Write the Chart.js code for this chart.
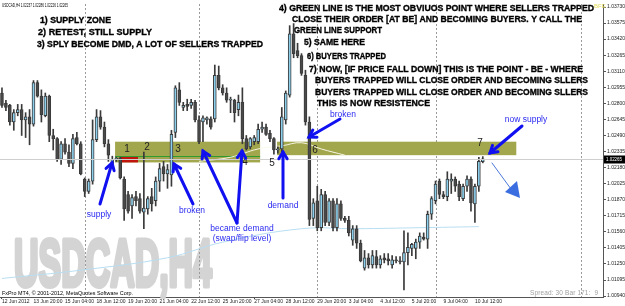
<!DOCTYPE html>
<html lang="en">
<head>
<meta charset="UTF-8">
<title>USDCAD,H4</title>
<script src="https://cdn.jsdelivr.net/npm/chart.js"></script>
<style>
    html, body { margin: 0; padding: 0; background: #fff; }
    #wrap { width: 625px; height: 306px; }
</style>
</head>
<body>
<div id="wrap"><canvas id="chart" width="625" height="306"></canvas></div>
<script>
// USDCAD H4 bars, 12 Jun - 10 Jul 2012
const open = [
    1.0290, 1.0280, 1.0278, 1.0262, 1.0271, 1.0274, 1.0264, 1.0267, 1.0260, 1.0300,
    1.0287, 1.0268, 1.0287, 1.0249, 1.0246, 1.0226, 1.0241, 1.0233, 1.0222, 1.0247,
    1.0241, 1.0207, 1.0195, 1.0205, 1.0245, 1.0267, 1.0257, 1.0241, 1.0222, 1.0226,
    1.0227, 1.0207, 1.0192, 1.0181, 1.0190, 1.0188, 1.0175, 1.0178, 1.0190, 1.0186,
    1.0205, 1.0219, 1.0212, 1.0211, 1.0252, 1.0293, 1.0276, 1.0279, 1.0278, 1.0281,
    1.0264, 1.0262, 1.0264, 1.0265, 1.0265, 1.0307, 1.0295, 1.0290, 1.0283, 1.0283,
    1.0274, 1.0281, 1.0246, 1.0238, 1.0243, 1.0243, 1.0255, 1.0257, 1.0251, 1.0246,
    1.0235, 1.0236, 1.0264, 1.0288, 1.0347, 1.0331, 1.0326, 1.0307, 1.0262, 1.0169,
    1.0186, 1.0160, 1.0192, 1.0165, 1.0186, 1.0160, 1.0183, 1.0169, 1.0167, 1.0148,
    1.0159, 1.0145, 1.0121, 1.0131, 1.0124, 1.0132, 1.0124, 1.0131, 1.0130, 1.0124,
    1.0129, 1.0128, 1.0127, 1.0136, 1.0140, 1.0140, 1.0146, 1.0151, 1.0149, 1.0173,
    1.0186, 1.0205, 1.0192, 1.0190, 1.0205, 1.0207, 1.0202, 1.0188, 1.0200, 1.0207,
    1.0183, 1.0200, 1.02237
];
const high = [
    1.0295, 1.0283, 1.0279, 1.0274, 1.0279, 1.0279, 1.0271, 1.0274, 1.0302, 1.0302,
    1.0293, 1.0290, 1.0288, 1.0255, 1.0247, 1.0243, 1.0246, 1.0240, 1.0250, 1.0252,
    1.0243, 1.0208, 1.0207, 1.0264, 1.0274, 1.0273, 1.0262, 1.0245, 1.0229, 1.0228,
    1.0228, 1.0209, 1.0195, 1.0192, 1.0195, 1.0193, 1.0233, 1.0190, 1.0198, 1.0209,
    1.0222, 1.0224, 1.0221, 1.0254, 1.0297, 1.0300, 1.0281, 1.0284, 1.0284, 1.0283,
    1.0268, 1.0268, 1.0267, 1.0267, 1.0317, 1.0316, 1.0298, 1.0295, 1.0286, 1.0284,
    1.0288, 1.0295, 1.0249, 1.0247, 1.0249, 1.0260, 1.0262, 1.0260, 1.0254, 1.0247,
    1.0238, 1.0276, 1.0292, 1.0355, 1.0357, 1.0338, 1.0328, 1.0312, 1.0267, 1.0188,
    1.0200, 1.0197, 1.0195, 1.0188, 1.0188, 1.0188, 1.0186, 1.0171, 1.0171, 1.0162,
    1.0162, 1.0148, 1.0138, 1.0135, 1.0138, 1.0138, 1.0133, 1.0135, 1.0135, 1.0133,
    1.0132, 1.0132, 1.0157, 1.0155, 1.0145, 1.0149, 1.0155, 1.0155, 1.0176, 1.0190,
    1.0205, 1.0207, 1.0195, 1.0214, 1.0212, 1.0209, 1.0205, 1.0202, 1.0210, 1.0209,
    1.0202, 1.0228, 1.02286
];
const low = [
    1.0276, 1.0273, 1.0259, 1.0254, 1.0268, 1.0249, 1.0247, 1.0240, 1.0258, 1.0286,
    1.0262, 1.0267, 1.0243, 1.0235, 1.0224, 1.0221, 1.0231, 1.0219, 1.0217, 1.0240,
    1.0211, 1.0190, 1.0193, 1.0202, 1.0243, 1.0255, 1.0238, 1.0224, 1.0218, 1.0224,
    1.0207, 1.0167, 1.0174, 1.0169, 1.0181, 1.0174, 1.0159, 1.0173, 1.0176, 1.0181,
    1.0195, 1.0205, 1.0198, 1.0200, 1.0247, 1.0278, 1.0273, 1.0273, 1.0275, 1.0262,
    1.0241, 1.0243, 1.0260, 1.0255, 1.0262, 1.0293, 1.0288, 1.0281, 1.0271, 1.0262,
    1.0268, 1.0241, 1.0235, 1.0236, 1.0240, 1.0241, 1.0252, 1.0249, 1.0243, 1.0231,
    1.0232, 1.0233, 1.0260, 1.0286, 1.0324, 1.0324, 1.0307, 1.0259, 1.0162, 1.0162,
    1.0157, 1.0157, 1.0162, 1.0162, 1.0157, 1.0157, 1.0167, 1.0165, 1.0152, 1.0143,
    1.0140, 1.0127, 1.0119, 1.0121, 1.0121, 1.0121, 1.0121, 1.0126, 1.0124, 1.0121,
    1.0126, 1.0125, 1.0100, 1.0124, 1.0133, 1.0130, 1.0140, 1.0148, 1.0140, 1.0168,
    1.0183, 1.0188, 1.0188, 1.0186, 1.0193, 1.0195, 1.0186, 1.0186, 1.0195, 1.0176,
    1.0165, 1.0195, 1.02226
];
const close = [
    1.0278, 1.0276, 1.0262, 1.0271, 1.0274, 1.0264, 1.0267, 1.0260, 1.0300, 1.0287,
    1.0269, 1.0287, 1.0249, 1.0246, 1.0226, 1.0241, 1.0233, 1.0222, 1.0246, 1.0241,
    1.0212, 1.0195, 1.0205, 1.0245, 1.0267, 1.0257, 1.0241, 1.0230, 1.0226, 1.0227,
    1.0208, 1.0178, 1.0176, 1.0189, 1.0186, 1.0176, 1.0179, 1.0188, 1.0183, 1.0205,
    1.0217, 1.0212, 1.0216, 1.0250, 1.0295, 1.0281, 1.0278, 1.0277, 1.0281, 1.0264,
    1.0243, 1.0266, 1.0266, 1.0257, 1.0307, 1.0295, 1.0290, 1.0283, 1.0284, 1.0271,
    1.0281, 1.0246, 1.0236, 1.0246, 1.0247, 1.0255, 1.0257, 1.0250, 1.0246, 1.0235,
    1.0236, 1.0267, 1.0290, 1.0347, 1.0328, 1.0326, 1.0309, 1.0262, 1.0168, 1.0184,
    1.0160, 1.0192, 1.0165, 1.0186, 1.0160, 1.0183, 1.0169, 1.0167, 1.0155, 1.0159,
    1.0145, 1.0128, 1.0131, 1.0124, 1.0133, 1.0124, 1.0130, 1.0129, 1.0128, 1.0129,
    1.0128, 1.0127, 1.0136, 1.0141, 1.0144, 1.0146, 1.0152, 1.0149, 1.0173, 1.0188,
    1.0202, 1.0192, 1.0190, 1.0207, 1.0207, 1.0200, 1.0190, 1.0200, 1.0207, 1.0184,
    1.0200, 1.0224, 1.02265
];

// time axis: one label every 8 bars
const timeLabels = ['12 Jun 2012', '13 Jun 20:00', '15 Jun 04:00', '18 Jun 12:00', '19 Jun 20:00',
    '21 Jun 04:00', '22 Jun 12:00', '25 Jun 20:00', '27 Jun 04:00', '28 Jun 12:00', '29 Jun 20:00',
    '3 Jul 04:00', '4 Jul 12:00', '5 Jul 20:00', '9 Jul 04:00', '10 Jul 12:00'];
const labelEvery = 8;
const totalSlots = 153;   // bars plus the empty space on the right
const gridBars = [21, 50, 80, 110, 147];

const priceTicks = [1.03730, 1.03575, 1.03420, 1.03265, 1.03110, 1.02955, 1.02800, 1.02645,
    1.02490, 1.02335, 1.02180, 1.02025, 1.01870, 1.01715, 1.01560, 1.01405, 1.01250, 1.01095, 1.00940];

// moving averages (sampled points)
const slowMaBars = [0, 20, 42, 56, 76, 90, 106, 121];
const slowMaValues = [1.0111, 1.0119, 1.0131, 1.0146, 1.0159, 1.0159, 1.0160, 1.0161];
const fastMaBars = [50, 58, 65, 71, 76, 81, 87];
const fastMaValues = [1.0224, 1.0228, 1.0236, 1.0239, 1.0242, 1.0236, 1.0230];

// supply / demand zones
const zoneFrom = [28.7, 69.8];
const zoneTo = [65.5, 130.5];
const zoneTop = [1.0243, 1.0243];
const zoneBottom = [1.0223, 1.0230];
const greenLine = 1.0229;
const redBlock = [30.0, 34.5, 1.0229, 1.0223];

// build what the library needs
const slots = Array.from({ length: totalSlots }, (_, i) => String(i));
const bodies = open.map((o, i) => [Math.min(o, close[i]), Math.max(o, close[i])]);
const wicks = low.map((l, i) => [l, high[i]]);
const isUp = open.map((o, i) => close[i] >= o);
function sparse(bars, vals) {
    const out = new Array(totalSlots).fill(null);
    bars.forEach((b, i) => { out[b] = vals[i]; });
    return out;
}

const FONT = '"Liberation Sans", Arial, sans-serif';

function fitText(ctx, str, x, y, w, stroke) {
    ctx.letterSpacing = '0px';
    const m = ctx.measureText(str).width;
    const gap = (w - m) / Math.max(1, str.length - 1);
    if (gap >= 0) {
        ctx.letterSpacing = gap + 'px';
        if (stroke) ctx.strokeText(str, x, y);
        ctx.fillText(str, x, y);
        ctx.letterSpacing = '0px';
    } else {
        ctx.save();
        ctx.translate(x, y);
        ctx.scale(w / m, 1);
        if (stroke) ctx.strokeText(str, 0, 0);
        ctx.fillText(str, 0, 0);
        ctx.restore();
    }
}

function arrow(ctx, x1, y1, x2, y2, width, head) {
    const a = Math.atan2(y2 - y1, x2 - x1);
    ctx.lineWidth = width;
    ctx.lineCap = 'round';
    ctx.beginPath();
    ctx.moveTo(x1, y1);
    ctx.lineTo(x2, y2);
    ctx.stroke();
    ctx.beginPath();
    ctx.moveTo(x2 - head * Math.cos(a - 0.55), y2 - head * Math.sin(a - 0.55));
    ctx.lineTo(x2, y2);
    ctx.lineTo(x2 - head * Math.cos(a + 0.55), y2 - head * Math.sin(a + 0.55));
    ctx.stroke();
}

// black captions
const captions = [
    ['1) SUPPLY ZONE', 40, 21, 71],
    ['2) RETEST, STILL SUPPLY', 38, 33, 114],
    ['3) SPLY BECOME DMD, A LOT OF SELLERS TRAPPED', 37, 45, 226],
    ['4) GREEN LINE IS THE MOST OBVIUOS POINT WHERE SELLERS TRAPPED', 279, 9, 315],
    ['CLOSE THEIR ORDER [AT BE] AND BECOMING BUYERS. Y CALL THE', 292, 20, 290],
    ['GREEN LINE SUPPORT', 294, 31, 88],
    ['5) SAME HERE', 304, 43, 61],
    ['6) BUYERS TRAPPED', 307, 57, 79],
    ['7) NOW, [IF PRICE FALL DOWN] THIS IS THE POINT - BE - WHERE', 309, 70, 274],
    ['BUYERS TRAPPED WILL CLOSE ORDER AND BECOMING SLLERS', 315, 81, 273],
    ['BUYERS TRAPPED WILL CLOSE ORDER AND BECOMING SLLERS', 315, 93, 273],
    ['THIS IS NOW RESISTENCE', 317, 104, 113]
];
const blueNotes = [
    ['supply', 99, 215], ['broken', 192, 211], ['became demand', 242, 229],
    ['(swap/flip level)', 242, 239], ['demand', 283, 206], ['broken', 343, 115], ['now supply', 526, 120]
];
const zoneNumbers = [['1', 127, 149], ['2', 147, 147], ['3', 178, 149], ['4', 245, 162],
    ['5', 272, 163], ['6', 315, 150], ['7', 480, 143]];
const arrows = [
    [100, 204, 112, 163], [193, 204, 174, 164], [237, 223, 203, 151], [237, 223, 242, 151],
    [283, 198, 283, 152], [340, 119, 309, 137], [522, 126, 490, 153]
];

const decorations = {
    id: 'decorations',
    beforeDatasetsDraw(chart) {
        const { ctx, chartArea: a, scales: { x, y } } = chart;
        ctx.save();
        // watermark
        ctx.fillStyle = '#d4d4d4';
        ctx.strokeStyle = '#d4d4d4';
        ctx.lineWidth = 5;
        ctx.lineJoin = 'round';
        ctx.font = 'bold 66px ' + FONT;
        ctx.textBaseline = 'alphabetic';
        const wm = 'USDCAD,H4';
        const mw = ctx.measureText(wm).width;
        ctx.save();
        ctx.translate(14, 286);
        ctx.scale(198 / mw, 1);
        ctx.strokeText(wm, 0, 0);
        ctx.fillText(wm, 0, 0);
        ctx.restore();

        // vertical dashed grid
        ctx.strokeStyle = '#9a9a9a';
        ctx.lineWidth = 1;
        ctx.setLineDash([2, 2]);
        gridBars.forEach(b => {
            const px = Math.round(x.getPixelForValue(b)) + 0.5;
            ctx.beginPath();
            ctx.moveTo(px, a.top);
            ctx.lineTo(px, a.bottom);
            ctx.stroke();
        });
        ctx.setLineDash([]);

        // zones
        ctx.fillStyle = '#a2a64c';
        zoneFrom.forEach((f, i) => {
            const x1 = x.getPixelForValue(f), x2 = x.getPixelForValue(zoneTo[i]);
            const y1 = y.getPixelForValue(zoneTop[i]), y2 = y.getPixelForValue(zoneBottom[i]);
            ctx.fillRect(x1, y1, x2 - x1, y2 - y1);
        });
        ctx.fillStyle = '#c0140c';
        const rx1 = x.getPixelForValue(redBlock[0]), rx2 = x.getPixelForValue(redBlock[1]);
        const ry1 = y.getPixelForValue(redBlock[2]), ry2 = y.getPixelForValue(redBlock[3]);
        ctx.fillRect(rx1, ry1, rx2 - rx1, ry2 - ry1);
        ctx.strokeStyle = '#2f9a2f';
        ctx.beginPath();
        const gy = Math.round(y.getPixelForValue(greenLine)) + 0.5;
        ctx.moveTo(x.getPixelForValue(zoneFrom[0]), gy);
        ctx.lineTo(x.getPixelForValue(zoneTo[0]), gy);
        ctx.stroke();
        ctx.restore();
    },
    afterDatasetsDraw(chart) {
        const { ctx, chartArea: a, scales: { x, y } } = chart;
        ctx.save();
        // current price line
        const last = close[close.length - 1];
        const py = Math.round(y.getPixelForValue(last)) + 0.5;
        ctx.strokeStyle = '#cfcfcf';
        ctx.lineWidth = 1;
        ctx.beginPath();
        ctx.moveTo(a.left, py);
        ctx.lineTo(a.right, py);
        ctx.stroke();

        // zone numbers
        ctx.fillStyle = '#222';
        ctx.font = '10px ' + FONT;
        ctx.textBaseline = 'middle';
        ctx.textAlign = 'center';
        zoneNumbers.forEach(([t, tx, ty]) => ctx.fillText(t, tx, ty));

        // blue notes and arrows
        ctx.fillStyle = '#2a2af0';
        ctx.font = '8.5px ' + FONT;
        blueNotes.forEach(([t, tx, ty]) => ctx.fillText(t, tx, ty));
        ctx.strokeStyle = '#1010f0';
        arrows.forEach(([x1, y1, x2, y2]) => arrow(ctx, x1, y1, x2, y2, 3, 8));
        ctx.strokeStyle = '#4a78d8';
        ctx.lineWidth = 1;
        ctx.beginPath();
        ctx.moveTo(492, 163);
        ctx.lineTo(511, 189);
        ctx.stroke();
        ctx.fillStyle = '#3a6ee0';
        ctx.beginPath();
        ctx.moveTo(505, 192);
        ctx.lineTo(520, 198);
        ctx.lineTo(517, 181);
        ctx.closePath();
        ctx.fill();

        // black captions
        ctx.textAlign = 'left';
        ctx.fillStyle = '#000';
        ctx.strokeStyle = '#000';
        ctx.lineWidth = 0.35;
        ctx.font = 'bold 9px ' + FONT;
        captions.forEach(([t, tx, ty, w]) => fitText(ctx, t, tx, ty, w, true));
        ctx.fillStyle = '#e6dc5a';
        ctx.font = '6px ' + FONT;
        ctx.fillText('BFE', 594, 6);

        // small texts
        ctx.fillStyle = '#000';
        ctx.font = '5.5px ' + FONT;
        fitText(ctx, 'USDCAD,H4 1.02237 1.02286 1.02226 1.02265', 2, 5, 66);
        fitText(ctx, 'FxPro MT4, \u00a9 2001-2012, MetaQuotes Software Corp.', 2, 293, 131);
        ctx.fillStyle = '#a0a0a0';
        ctx.font = '6.5px ' + FONT;
        fitText(ctx, 'Spread: 30 Bar 171:  9', 530, 293, 68);

        // price box
        ctx.fillStyle = '#000';
        ctx.fillRect(a.right + 1, py - 4, 22, 8);
        ctx.fillStyle = '#fff';
        ctx.font = '5px ' + FONT;
        fitText(ctx, last.toFixed(5), a.right + 3, py, 16);
        ctx.restore();
    }
};

new Chart(document.getElementById('chart'), {
    type: 'bar',
    data: {
        labels: slots,
        datasets: [
            {
                data: bodies,
                backgroundColor: c => isUp[c.dataIndex] ? '#8ccfec' : '#4a4a4a',
                borderColor: '#3a3a3a',
                borderWidth: 1,
                borderSkipped: false,
                barThickness: 3,
                minBarLength: 1,
                grouped: false,
                order: 0
            },
            {
                data: wicks,
                backgroundColor: '#3a3a3a',
                borderWidth: 0,
                barThickness: 1,
                grouped: false,
                order: 1
            },
            {
                type: 'line',
                data: sparse(fastMaBars, fastMaValues),
                borderColor: 'rgba(250,250,235,0.95)',
                borderWidth: 1,
                pointRadius: 0,
                spanGaps: true,
                tension: 0.4,
                order: 2
            },
            {
                type: 'line',
                data: sparse(slowMaBars, slowMaValues),
                borderColor: '#b8def2',
                borderWidth: 1,
                pointRadius: 0,
                spanGaps: true,
                tension: 0.4,
                order: 3
            }
        ]
    },
    options: {
        responsive: false,
        animation: false,
        layout: { padding: 0 },
        plugins: { legend: { display: false }, tooltip: { enabled: false } },
        scales: {
            x: {
                offset: true,
                grid: {
                    offset: false,
                    drawOnChartArea: false,
                    tickLength: 2,
                    tickColor: c => (c.index % labelEvery === 0 ? '#444' : 'rgba(0,0,0,0)')
                },
                border: { color: '#555' },
                ticks: {
                    autoSkip: false,
                    maxRotation: 0,
                    minRotation: 0,
                    align: 'start',
                    padding: 0,
                    color: '#222',
                    font: { family: FONT, size: 5 },
                    callback: (v, i) => (i % labelEvery === 0 && timeLabels[i / labelEvery]) ? timeLabels[i / labelEvery] : null
                },
                afterFit: s => { s.height = 9; }
            },
            y: {
                position: 'right',
                min: 1.00931,
                max: 1.03759,
                grid: { drawOnChartArea: false, tickLength: 3, color: '#555' },
                border: { color: '#555' },
                afterBuildTicks: s => { s.ticks = priceTicks.map(v => ({ value: v })); },
                ticks: {
                    padding: 1,
                    color: '#222',
                    font: { family: FONT, size: 5 },
                    callback: v => Number(v).toFixed(5)
                },
                afterFit: s => { s.width = 22; }
            }
        }
    },
    plugins: [decorations]
});
</script>
</body>
</html>
